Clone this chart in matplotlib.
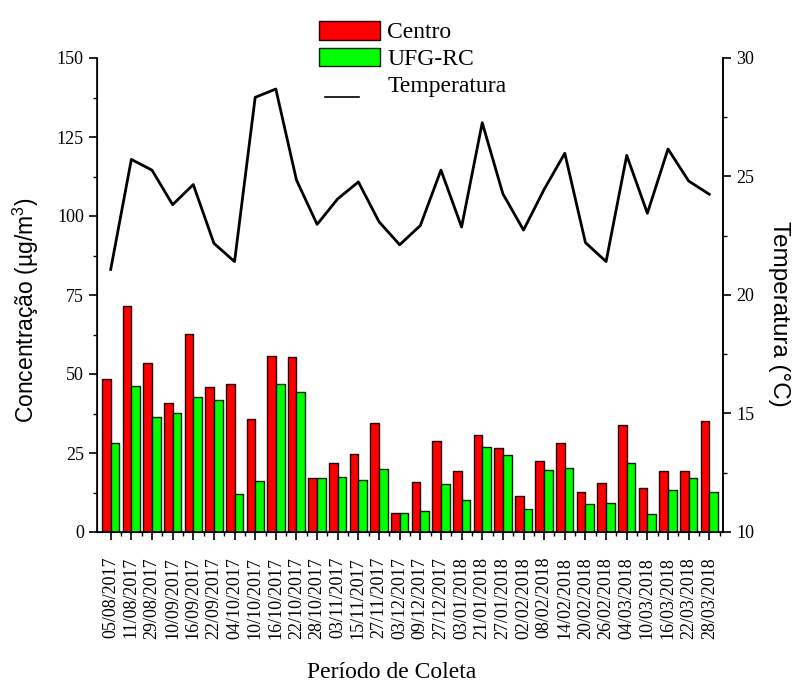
import matplotlib
matplotlib.use("Agg")
import matplotlib.pyplot as plt
import numpy as np
from matplotlib.patches import Patch
from matplotlib.lines import Line2D
from matplotlib.legend_handler import HandlerLine2D
from matplotlib.ticker import MultipleLocator

dates = ["05/08/2017", "11/08/2017", "29/08/2017", "10/09/2017", "16/09/2017",
         "22/09/2017", "04/10/2017", "10/10/2017", "16/10/2017", "22/10/2017",
         "28/10/2017", "03/11/2017", "15/11/2017", "27/11/2017", "03/12/2017",
         "09/12/2017", "27/12/2017", "03/01/2018", "21/01/2018", "27/01/2018",
         "02/02/2018", "08/02/2018", "14/02/2018", "20/02/2018", "26/02/2018",
         "04/03/2018", "10/03/2018", "16/03/2018", "22/03/2018", "28/03/2018"]

centro = [48.3, 71.6, 53.5, 40.9, 62.7, 46.0, 46.9, 35.9, 55.7, 55.5,
          17.1, 21.7, 24.6, 34.6, 6.1, 15.7, 28.8, 19.4, 30.7, 26.6,
          11.4, 22.4, 28.1, 12.6, 15.6, 34.0, 13.8, 19.2, 19.3, 35.2]

ufg_rc = [28.2, 46.1, 36.3, 37.6, 42.7, 41.9, 12.0, 16.2, 46.8, 44.3,
          17.2, 17.4, 16.6, 19.9, 5.9, 6.6, 15.2, 10.2, 26.9, 24.4,
          7.2, 19.6, 20.3, 9.0, 9.2, 21.8, 5.8, 13.4, 17.2, 12.8]

temperatura = [21.08, 25.72, 25.27, 23.81, 24.66, 22.18, 21.41, 28.34, 28.69, 24.85,
               22.98, 24.06, 24.77, 23.09, 22.12, 22.93, 25.27, 22.87, 27.27, 24.27,
               22.74, 24.46, 25.98, 22.21, 21.41, 25.89, 23.45, 26.16, 24.81, 24.25]

serif = "Liberation Serif"
sans = "Liberation Sans"
plt.rcParams["font.family"] = [serif, "DejaVu Sans"]
plt.rcParams["mathtext.fontset"] = "custom"
plt.rcParams["mathtext.rm"] = sans
plt.rcParams["mathtext.it"] = sans + ":italic"
plt.rcParams["mathtext.bf"] = sans + ":bold"

fig = plt.figure(figsize=(7.94, 6.82), dpi=100)
ax = fig.add_axes([97/794, 1-532/682, (723-97)/794, (532-58)/682])

x = np.arange(len(dates))
w = 0.42
ax.bar(x - w/2, centro, width=w, color="#ff0000", edgecolor="#220000", linewidth=1.0)
ax.bar(x + w/2, ufg_rc, width=w, color="#00ff00", edgecolor="#002200", linewidth=1.0)

ax.set_xlim(-0.664, len(dates) - 1 + 0.664)
ax.set_ylim(0, 150)
ax.set_xticks(x)
ax.set_xticklabels(dates, rotation=90, fontsize=12.5, family=serif)
ax.set_xticks(x + 0.5, minor=True)
ax.yaxis.set_major_locator(MultipleLocator(25))
ax.yaxis.set_minor_locator(MultipleLocator(12.5))
ax.tick_params(axis="both", which="major", direction="out", length=6, width=1.2,
               labelsize=13)
ax.tick_params(axis="both", which="minor", direction="out", length=3, width=1.0)
ax.tick_params(axis="x", which="major", pad=12)
for lab in ax.get_yticklabels():
    lab.set_family(serif)
ax.spines["top"].set_visible(False)
for s in ["left", "bottom", "right"]:
    ax.spines[s].set_linewidth(1.2)

ax.set_ylabel("Concentração (µg/m$^{3}$)", family=sans, fontsize=16.5)
ax.yaxis.set_label_coords(-0.09, 0.468)
ax.set_xlabel("Período de Coleta", family=serif, fontsize=17)
ax.xaxis.set_label_coords(0.47, -0.275)

ax2 = ax.twinx()
ax2.plot(x, temperatura, color="black", linewidth=2.0)
ax2.set_ylim(10, 30)
ax2.yaxis.set_major_locator(MultipleLocator(5))
ax2.yaxis.set_minor_locator(MultipleLocator(2.5))
ax2.tick_params(axis="y", which="major", direction="out", length=6, width=1.2, labelsize=13)
ax2.tick_params(axis="y", which="minor", direction="out", length=3, width=1.0)
for lab in ax2.get_yticklabels():
    lab.set_family(serif)
ax2.spines["top"].set_visible(False)
ax2.spines["right"].set_linewidth(1.2)
ax2.set_ylabel("Temperatura (°C)", family=sans, fontsize=17.5, rotation=270)
ax2.yaxis.set_label_coords(1.107, 0.46)


class LowLine(HandlerLine2D):
    def create_artists(self, legend, orig_handle, xdescent, ydescent, width, height,
                       fontsize, trans):
        arts = super().create_artists(legend, orig_handle, xdescent, ydescent,
                                      width, height, fontsize, trans)
        for a in arts:
            if isinstance(a, Line2D):
                xd = a.get_xdata()
                a.set_xdata([xd[0] + 0.1 * width, xd[-1] - 0.35 * width])
                a.set_ydata([-ydescent - 0.2 * height] * 2)
        return arts


handles = [Patch(facecolor="#ff0000", edgecolor="#220000", linewidth=1.0),
           Patch(facecolor="#00ff00", edgecolor="#002200", linewidth=1.0),
           Line2D([0], [0], color="black", linewidth=1.2)]
labels = ["Centro", "UFG-RC", "Temperatura"]
fig.legend(handles, labels, loc="upper left", bbox_to_anchor=(307/794, 1-9/682),
           frameon=False, prop={"family": serif, "size": 17}, handlelength=2.6,
           handleheight=0.85, labelspacing=0.18, borderpad=0, handletextpad=0.3,
           handler_map={handles[2]: LowLine()})

fig.savefig("out.png", dpi=100)
